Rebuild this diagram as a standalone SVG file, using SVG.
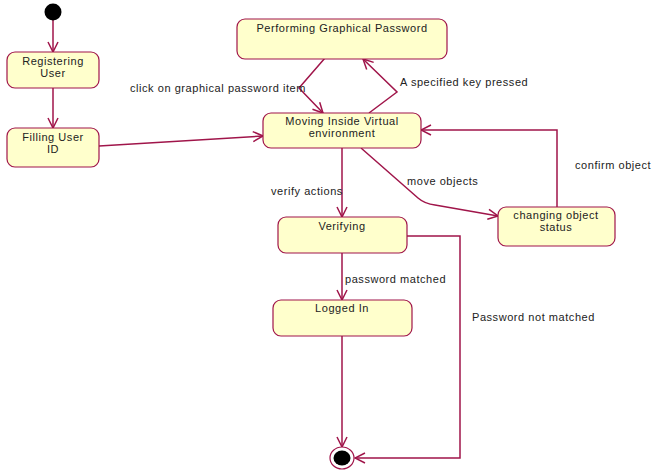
<svg xmlns="http://www.w3.org/2000/svg" width="653" height="472" viewBox="0 0 653 472">
  <style>
    .state rect { fill: #ffffcc; stroke: #a0154a; stroke-width: 1.2; }
    .state text, .label { font-family: "Liberation Sans", Arial, sans-serif; font-size: 11px; letter-spacing: 0.55px; fill: #222; }
    .state text { text-anchor: middle; }
    .edge { fill: none; stroke: #a0154a; stroke-width: 1.5; marker-end: url(#arrow); }
  </style>
  <defs>
    <marker id="arrow" viewBox="0 0 12 12" refX="11" refY="6" markerWidth="12" markerHeight="12" markerUnits="userSpaceOnUse" orient="auto">
      <path d="M1,1 L11,6 L1,11" fill="none" stroke="#a0154a" stroke-width="1.5"/>
    </marker>
  </defs>
  <rect width="653" height="472" fill="#ffffff"/>

  <g id="connectors">
    <path class="edge" d="M53,20 L53,52"/>
    <path class="edge" d="M53,88 L53,128"/>
    <path class="edge" d="M99,146 L263,136"/>
    <path class="edge" d="M325,58 L299,88 L323,113"/>
    <path class="edge" d="M369,113 L397,92 L363,59"/>
    <path class="edge" d="M557,207 L557,130 L421,130"/>
    <path class="edge" d="M361,148 L418,198 Q425,204 435,205 L498,216"/>
    <path class="edge" d="M342,148 L342,217"/>
    <path class="edge" d="M342,253 L342,300"/>
    <path class="edge" d="M342,336 L342,447"/>
    <path class="edge" d="M407,236 L460,236 L460,458 L355,458"/>
    <text class="label" x="130" y="92">click on graphical password item</text>
    <text class="label" x="400" y="86">A specified key pressed</text>
    <text class="label" x="575" y="169">confirm object</text>
    <text class="label" x="407" y="185">move objects</text>
    <text class="label" x="271" y="195">verify actions</text>
    <text class="label" x="345" y="283">password matched</text>
    <text class="label" x="472" y="321">Password not matched</text>
  </g>

  <g id="start">
    <circle cx="53" cy="12" r="8.5" fill="#000"/>
  </g>

  <g id="registering-user" class="state">
    <rect x="7" y="52" width="92" height="36" rx="8"/>
    <text x="53" y="65">Registering</text>
    <text x="53" y="77">User</text>
  </g>

  <g id="filling-user-id" class="state">
    <rect x="7" y="128" width="92" height="39" rx="8"/>
    <text x="53" y="141">Filling User</text>
    <text x="53" y="153">ID</text>
  </g>

  <g id="performing-graphical-password" class="state">
    <rect x="237" y="19" width="210" height="40" rx="8"/>
    <text x="342" y="32">Performing Graphical Password</text>
  </g>

  <g id="moving-inside" class="state">
    <rect x="263" y="113" width="158" height="35" rx="8"/>
    <text x="342" y="125">Moving Inside Virtual</text>
    <text x="342" y="137">environment</text>
  </g>

  <g id="changing-object-status" class="state">
    <rect x="498" y="207" width="117" height="39" rx="8"/>
    <text x="556" y="219">changing object</text>
    <text x="556" y="231">status</text>
  </g>

  <g id="verifying" class="state">
    <rect x="278" y="217" width="129" height="36" rx="8"/>
    <text x="342" y="230">Verifying</text>
  </g>

  <g id="logged-in" class="state">
    <rect x="273" y="300" width="139" height="36" rx="8"/>
    <text x="342" y="312">Logged In</text>
  </g>

  <g id="end">
    <ellipse cx="342" cy="458" rx="12" ry="11" fill="#fff" stroke="#a0154a" stroke-width="1.2"/>
    <ellipse cx="342" cy="458" rx="8.5" ry="7.5" fill="#000"/>
  </g>
</svg>
